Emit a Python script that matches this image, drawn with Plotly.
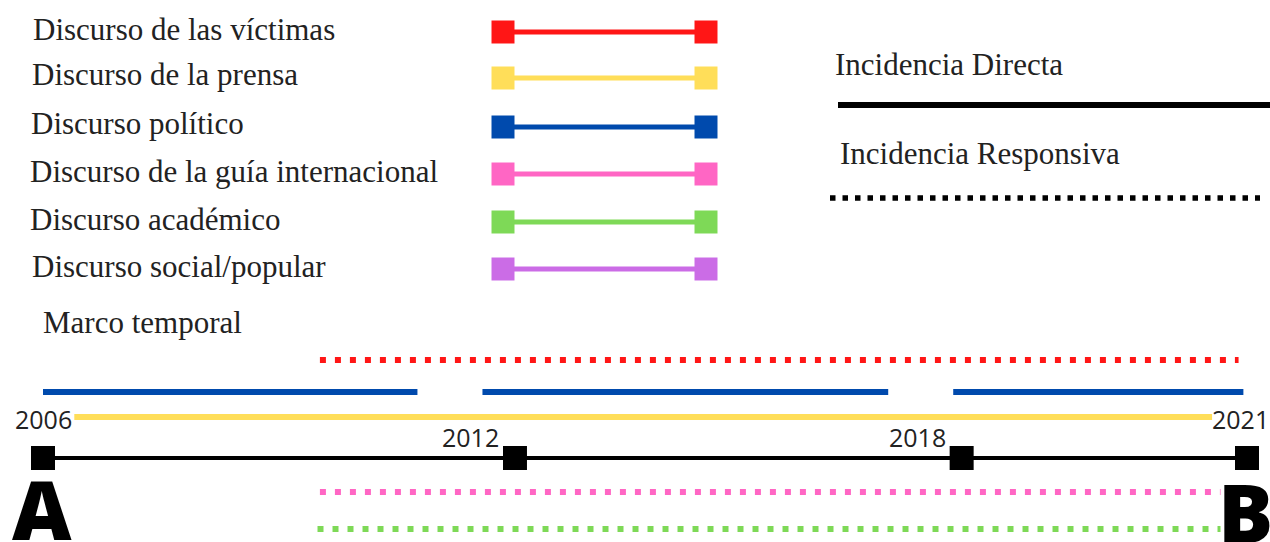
import plotly.graph_objects as go

# ---------------- data ----------------
discourse_labels = [
    "Discurso de las víctimas",
    "Discurso de la prensa",
    "Discurso político",
    "Discurso de la guía internacional",
    "Discurso académico",
    "Discurso social/popular",
]
discourse_colors = ["#ff1616", "#ffde59", "#004aad", "#ff66c4", "#7ed957", "#cb6ce6"]

incidence_labels = ["Incidencia Directa", "Incidencia Responsiva"]

timeline_title = "Marco temporal"
milestone_years = ["2006", "2012", "2018", "2021"]
milestone_pos = [0.0, 39.2, 76.3, 100.0]      # position along A -> B (% of timeline)
endpoint_labels = ["A", "B"]

# periods of presence of each discourse, as (start, end) in % of timeline
victimas_periods = [(23.0, 99.3)]
prensa_periods = [(2.6, 97.1)]
politico_periods = [(0.0, 31.1), (36.5, 70.2), (75.6, 99.7)]
guia_periods = [(23.0, 97.8)]
academico_periods = [(22.8, 97.8)]
social_periods = []

# type of incidence of each discourse
victimas_incidence = "Responsiva"
prensa_incidence = "Directa"
politico_incidence = "Directa"
guia_incidence = "Responsiva"
academico_incidence = "Responsiva"
social_incidence = "Responsiva"

# ---------------- layout constants (pixel-like canvas) ----------------
W, H = 1270, 542
X0_PX, X1_PX = 43, 1247          # where 0 % and 100 % of the timeline sit
SCALE = (X1_PX - X0_PX) / 100.0
LEGEND_ROW_Y = [32, 78, 127, 174, 222, 269]
LEGEND_LABEL_Y = [29, 74, 123, 171, 219, 266]
LEGEND_LABEL_X = [31, 30, 29, 28, 28, 30]
LEGEND_SAMPLE_X = [503, 706]
LANE_Y = {"victimas": 360, "politico": 392, "prensa": 417, "axis": 458, "guia": 492, "academico": 529}
SERIF = "Liberation Serif, DejaVu Serif, serif"
SANS = "Open Sans, Noto Sans, sans-serif"
TEXT_COLOR = "#222222"
SERIF_SIZE = 31

fig = go.Figure()

def solid(color, width):
    return dict(color=color, width=width)

def dotted(color, width, gap):
    return dict(color=color, width=width, dash=f"{width}px,{gap}px")

def period_trace(periods, lane, line):
    xs, ys = [], []
    for a, b in periods:
        xs += [a, b, None]
        ys += [LANE_Y[lane], LANE_Y[lane], None]
    fig.add_trace(go.Scatter(x=xs, y=ys, mode="lines", line=line,
                             hoverinfo="skip", showlegend=False, xaxis="x", yaxis="y"))

def style_for(incidence, color, wsolid=6):
    return solid(color, wsolid) if incidence == "Directa" else dotted(color, 6, 9)

# ---------------- legend: discourse samples ----------------
for i, (lab, col) in enumerate(zip(discourse_labels, discourse_colors)):
    fig.add_trace(go.Scatter(
        x=LEGEND_SAMPLE_X, y=[LEGEND_ROW_Y[i]] * 2, mode="lines+markers",
        line=dict(color=col, width=5),
        marker=dict(symbol="square", size=23, color=col),
        hoverinfo="skip", showlegend=False, xaxis="x2", yaxis="y"))
    fig.add_annotation(x=LEGEND_LABEL_X[i], y=LEGEND_LABEL_Y[i], xref="x2", yref="y",
                       text=lab, showarrow=False, xanchor="left", yanchor="middle",
                       font=dict(family=SERIF, size=SERIF_SIZE, color=TEXT_COLOR))

# ---------------- legend: incidence ----------------
fig.add_annotation(x=833, y=64, xref="x2", yref="y", text=incidence_labels[0],
                   showarrow=False, xanchor="left", yanchor="middle",
                   font=dict(family=SERIF, size=SERIF_SIZE, color=TEXT_COLOR))
fig.add_trace(go.Scatter(x=[838, W], y=[105, 105], mode="lines", line=solid("#000000", 6),
                         hoverinfo="skip", showlegend=False, xaxis="x2", yaxis="y"))
fig.add_annotation(x=838, y=153, xref="x2", yref="y", text=incidence_labels[1],
                   showarrow=False, xanchor="left", yanchor="middle",
                   font=dict(family=SERIF, size=SERIF_SIZE, color=TEXT_COLOR))
fig.add_trace(go.Scatter(x=[830, 1260], y=[198, 198], mode="lines",
                         line=dict(color="#000000", width=5.5, dash="5.5px,7px"),
                         hoverinfo="skip", showlegend=False, xaxis="x2", yaxis="y"))

# ---------------- timeline ----------------
fig.add_annotation(x=41, y=322, xref="x2", yref="y", text=timeline_title,
                   showarrow=False, xanchor="left", yanchor="middle",
                   font=dict(family=SERIF, size=SERIF_SIZE, color=TEXT_COLOR))

period_trace(victimas_periods, "victimas", style_for(victimas_incidence, discourse_colors[0]))
period_trace(politico_periods, "politico", style_for(politico_incidence, discourse_colors[2]))
period_trace(prensa_periods, "prensa", style_for(prensa_incidence, discourse_colors[1], 6))
period_trace(guia_periods, "guia", style_for(guia_incidence, discourse_colors[3]))
period_trace(academico_periods, "academico", style_for(academico_incidence, discourse_colors[4]))

fig.add_trace(go.Scatter(
    x=milestone_pos, y=[LANE_Y["axis"]] * len(milestone_pos), mode="lines+markers",
    line=dict(color="#000000", width=4),
    marker=dict(symbol="square", size=24, color="#000000"),
    hoverinfo="skip", showlegend=False, xaxis="x", yaxis="y"))

YEAR_SHIFT = [(0, -39), (-44, -21), (-44, -21), (-7, -39)]
for yr, pos, (dx, dy) in zip(milestone_years, milestone_pos, YEAR_SHIFT):
    fig.add_annotation(x=pos, y=LANE_Y["axis"], xref="x", yref="y", text=yr,
                       showarrow=False, xanchor="center", yanchor="middle",
                       xshift=dx, yshift=-dy,
                       font=dict(family=SANS, size=25, color=TEXT_COLOR))

fig.add_annotation(x=milestone_pos[0], y=508, xref="x", yref="y", text=endpoint_labels[0],
                   showarrow=False, xanchor="center", yanchor="middle", xshift=-1,
                   font=dict(family=SANS, size=82, color="#000000", weight=800))
fig.add_annotation(x=milestone_pos[-1], y=511, xref="x", yref="y", text=endpoint_labels[1],
                   showarrow=False, xanchor="center", yanchor="middle", xshift=-2,
                   font=dict(family=SANS, size=82, color="#000000", weight=800))

fig.update_layout(
    width=W, height=H,
    margin=dict(l=0, r=0, t=0, b=0),
    paper_bgcolor="white", plot_bgcolor="white",
    showlegend=False,
    xaxis=dict(range=[-X0_PX / SCALE, (W - X0_PX) / SCALE], visible=False,
               domain=[0, 1], fixedrange=True),
    xaxis2=dict(range=[0, W], visible=False, overlaying="x", anchor="y", fixedrange=True),
    yaxis=dict(range=[H, 0], visible=False, domain=[0, 1], fixedrange=True),
)

fig.write_html("out.html", config={"displayModeBar": False},
               post_script=["document.body.style.margin='0px';document.body.style.overflow='hidden';"])
